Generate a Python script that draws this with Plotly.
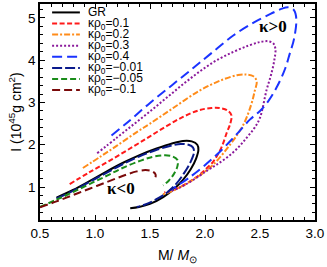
import plotly.graph_objects as go

# ---- data ----
gr_x = [0.65, 0.80, 0.95, 1.10, 1.26, 1.40, 1.56, 1.70, 1.80, 1.88, 1.93, 1.94, 1.92, 1.87, 1.80, 1.72, 1.62, 1.50, 1.40, 1.32]
gr_y = [0.75, 0.93, 1.14, 1.36, 1.58, 1.75, 1.91, 2.03, 2.09, 2.08, 2.00, 1.88, 1.68, 1.42, 1.17, 0.96, 0.76, 0.60, 0.53, 0.50]

k01_x = [0.77, 0.95, 1.15, 1.35, 1.50, 1.65, 1.80, 1.95, 2.06, 2.13, 2.20, 2.24, 2.23, 2.20, 2.15, 2.08, 1.99, 1.92, 1.83, 1.74, 1.63]
k01_y = [1.07, 1.35, 1.65, 1.96, 2.20, 2.44, 2.66, 2.82, 2.87, 2.87, 2.82, 2.70, 2.50, 2.30, 1.94, 1.62, 1.38, 1.23, 1.08, 0.96, 0.87]

k02_x = [0.89, 1.05, 1.20, 1.38, 1.50, 1.70, 1.95, 2.15, 2.30, 2.38, 2.44, 2.47, 2.45, 2.42, 2.35, 2.23, 2.05, 1.83, 1.68, 1.60]
k02_y = [1.45, 1.72, 1.98, 2.30, 2.50, 2.85, 3.28, 3.53, 3.65, 3.66, 3.62, 3.50, 3.25, 2.95, 2.48, 2.01, 1.47, 1.08, 0.88, 0.82]

k03_x = [1.02, 1.20, 1.35, 1.50, 1.65, 1.80, 1.95, 2.10, 2.26, 2.40, 2.50, 2.57, 2.62, 2.64, 2.63, 2.60, 2.56, 2.50, 2.45, 2.38, 2.30, 2.20, 2.10, 2.02, 1.90, 1.78, 1.66]
k03_y = [1.80, 2.17, 2.48, 2.79, 3.11, 3.43, 3.73, 3.99, 4.20, 4.35, 4.43, 4.45, 4.40, 4.27, 4.00, 3.65, 3.30, 2.64, 2.40, 2.17, 1.93, 1.70, 1.52, 1.39, 1.18, 1.00, 0.88]

k04_x = [1.15, 1.30, 1.50, 1.70, 1.89, 2.05, 2.26, 2.45, 2.60, 2.70, 2.76, 2.81, 2.83, 2.81, 2.77, 2.73, 2.66, 2.58, 2.50, 2.41, 2.26, 2.08, 1.86, 1.68]
k04_y = [2.22, 2.54, 2.99, 3.41, 3.81, 4.15, 4.59, 4.90, 5.10, 5.22, 5.25, 5.18, 4.98, 4.51, 4.15, 3.81, 3.40, 3.05, 2.80, 2.60, 2.17, 1.70, 1.23, 0.92]

km001_x = [0.65, 0.80, 0.95, 1.10, 1.26, 1.40, 1.55, 1.68, 1.78, 1.85, 1.89, 1.90, 1.87, 1.81, 1.74, 1.65, 1.55, 1.45, 1.38]
km001_y = [0.73, 0.91, 1.12, 1.33, 1.55, 1.72, 1.87, 1.97, 2.02, 2.00, 1.94, 1.82, 1.60, 1.33, 1.08, 0.86, 0.70, 0.58, 0.53]

km005_x = [0.50, 0.65, 0.80, 0.95, 1.11, 1.25, 1.41, 1.52, 1.62, 1.70, 1.75, 1.75, 1.72, 1.67, 1.62]
km005_y = [0.53, 0.70, 0.88, 1.07, 1.27, 1.45, 1.62, 1.71, 1.75, 1.73, 1.64, 1.50, 1.32, 1.15, 1.04]

km01_x = [0.50, 0.65, 0.80, 0.95, 1.11, 1.25, 1.38, 1.46, 1.52, 1.55, 1.55]
km01_y = [0.52, 0.66, 0.81, 0.96, 1.12, 1.26, 1.37, 1.40, 1.37, 1.30, 1.23]

labels = ["GR", "κρ<sub>0</sub>=0.1", "κρ<sub>0</sub>=0.2", "κρ<sub>0</sub>=0.3", "κρ<sub>0</sub>=0.4",
          "κρ<sub>0</sub>=−0.01", "κρ<sub>0</sub>=−0.05", "κρ<sub>0</sub>=−0.1"]
xs = [gr_x, k01_x, k02_x, k03_x, k04_x, km001_x, km005_x, km01_x]
ys = [gr_y, k01_y, k02_y, k03_y, k04_y, km001_y, km005_y, km01_y]
colors = ["#000000", "#FF1A1A", "#FF8C1A", "#8B1A9B", "#1A33FF", "#0A1A8C", "#1A8C1A", "#7A0A0A"]
dashes = ["solid", "5px,2.5px", "6px,2px,2px,2px", "2px,2px", "10px,5px", "10px,3px", "6px,3px", "8px,4px"]

x_ticks = [0.5, 1.0, 1.5, 2.0, 2.5, 3.0]
y_ticks = [1, 2, 3, 4, 5]

fig = go.Figure()
for x, y, c, d, lab in zip(xs, ys, colors, dashes, labels):
    fig.add_trace(go.Scatter(x=x, y=y, mode="lines", name=lab, showlegend=False,
                             line=dict(color=c, width=2, dash=d, shape="spline", smoothing=1.0)))

# custom compact legend
plot_top, plot_bot = 2, 220
for i, (c, d, lab) in enumerate(zip(colors, dashes, labels)):
    py = 10.5 + i * 11.2
    yp = (plot_bot - py) / (plot_bot - plot_top)
    fig.add_shape(type="line", xref="paper", yref="paper", x0=0.044, x1=0.145, y0=yp, y1=yp,
                  line=dict(color=c, width=2, dash=d))
    fig.add_annotation(xref="paper", yref="paper", x=0.168, y=yp, text=lab, showarrow=False,
                       xanchor="left", yanchor="middle", font=dict(size=12, color="black",
                       family="Liberation Sans"))

fig.add_annotation(x=2.62, y=4.8, text="<b>κ&gt;0</b>", showarrow=False,
                   font=dict(size=17, family="Liberation Serif", color="black"))
fig.add_annotation(x=1.24, y=0.96, text="<b>κ&lt;0</b>", showarrow=False,
                   font=dict(size=17, family="Liberation Serif", color="black"))

axis_common = dict(showline=True, mirror="allticks", linecolor="black", linewidth=1.5,
                   ticks="inside", ticklen=5, tickwidth=1, tickcolor="black",
                   showgrid=False, zeroline=False, ticklabeloverflow="allow",
                   tickfont=dict(size=13.5, family="Liberation Sans", color="black"))

fig.update_xaxes(range=[0.5, 3.0], tickvals=x_ticks, ticktext=[f"{v:.1f}" for v in x_ticks],
                 minor=dict(ticks="inside", dtick=0.1, ticklen=3, tickcolor="black", showgrid=False),
                 title=dict(text="M/ <i>M</i><sub>⊙</sub>", font=dict(size=14, family="Liberation Sans", color="black"), standoff=10),
                 **axis_common)
fig.update_yaxes(range=[0.22, 5.33], tickvals=y_ticks,
                 minor=dict(ticks="inside", dtick=0.2, ticklen=3, tickcolor="black", showgrid=False),
                 title=dict(text="I (10<sup>45</sup>g cm<sup>2</sup>)", font=dict(size=14, family="Liberation Sans", color="black"), standoff=3),
                 **axis_common)

fig.update_layout(width=327, height=267, margin=dict(l=40, r=12, t=2, b=47),
                  plot_bgcolor="white", paper_bgcolor="white", showlegend=False)

fig.write_html("out.html", config={"displayModeBar": False},
               post_script="document.body.style.margin='0';document.body.style.overflow='hidden';")
